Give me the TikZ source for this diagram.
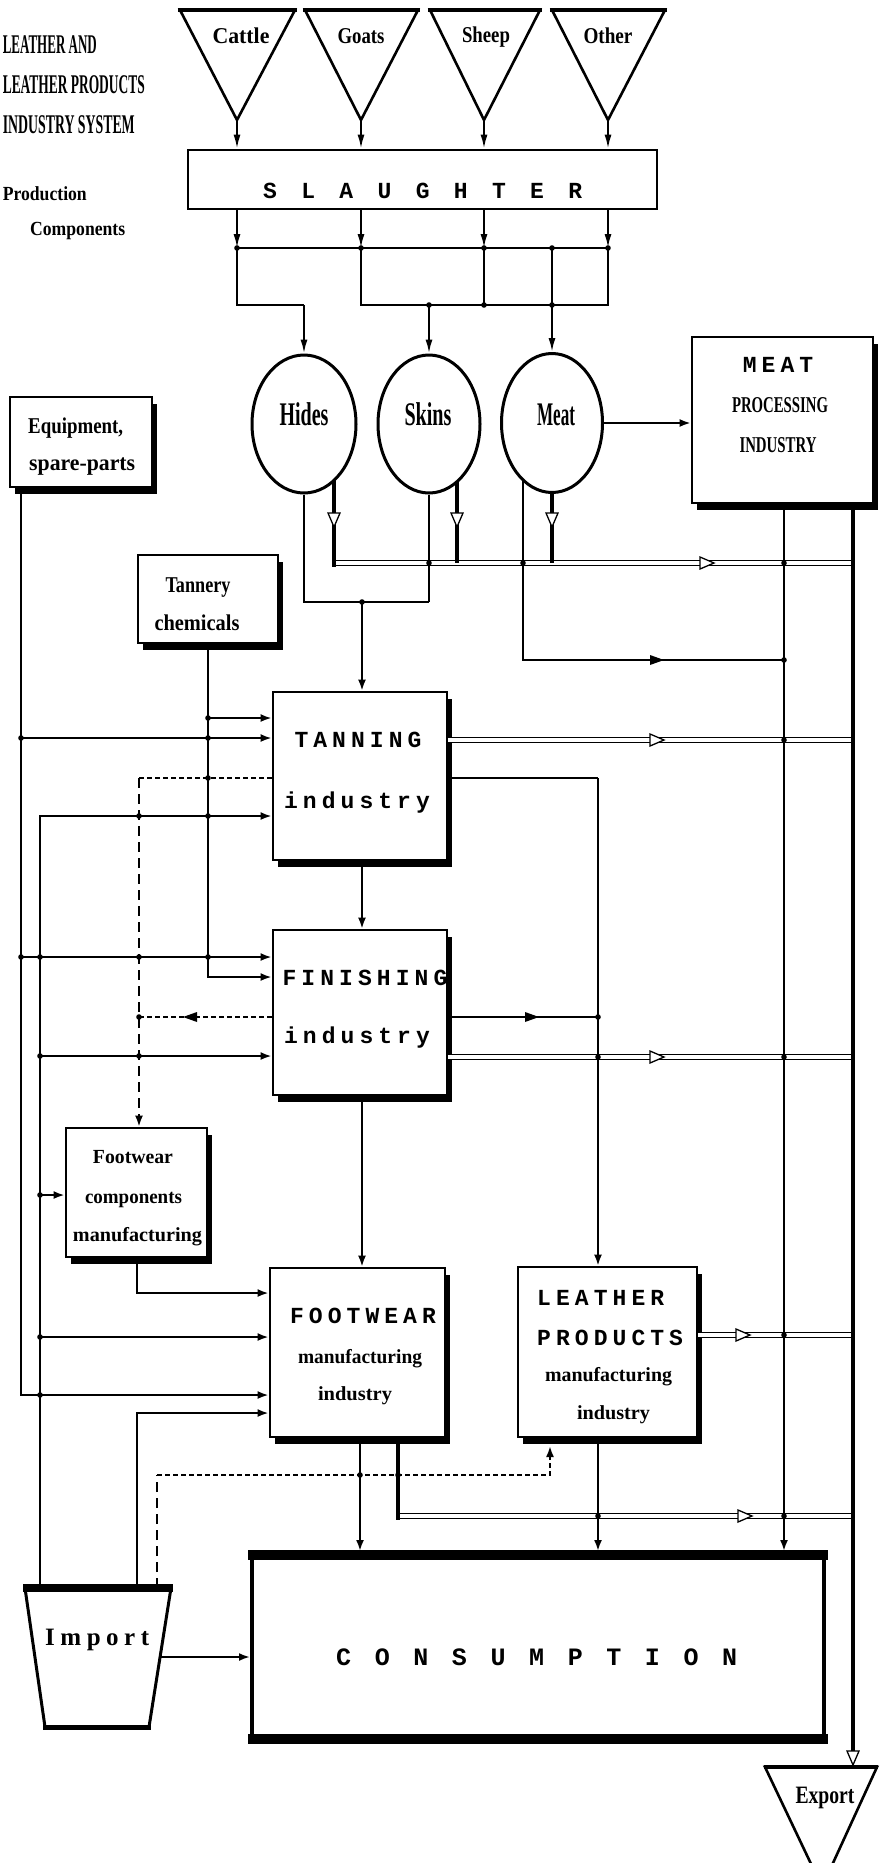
\documentclass[tikz,border=0pt]{standalone}
\usepackage{fontspec}
\usepackage{graphicx}
\usetikzlibrary{arrows.meta,shapes.geometric,shadows}
\newfontfamily\lblfont{Liberation Serif}
\newfontfamily\monofnt{Liberation Mono}[LetterSpace=22]
\newcommand\fitw[2]{\resizebox{#1}{\height}{#2}}
\newcommand\farr[3]{\fill[shift={(#1,#2)},rotate=#3] (-7pt,-5pt) -- (7pt,0pt) -- (-7pt,5pt) -- cycle;}
\newcommand\oarr[3]{\draw[line width=1.3pt,fill=white,shift={(#1,#2)},rotate=#3] (-7pt,-6pt) -- (7pt,0pt) -- (-7pt,6pt) -- cycle;}
\newcommand\jd[2]{\fill (#1,#2) circle (2.8pt);}
\begin{document}
\begin{tikzpicture}[x=1pt,y=-1pt,
 ln/.style={line width=2pt},
 tip/.style={-{Latex[length=11pt,width=8pt]}},
 arr/.style={ln,tip},
 narr/.style={ln,-{Latex[length=14pt,width=7pt]}},
 dbl/.style={double, double distance=3.6pt, line width=1.6pt},
 thk/.style={line width=4pt},
 dsh/.style={ln, dash pattern=on 5pt off 3pt},
 vdsh/.style={ln, dash pattern=on 10pt off 6pt},
 bx/.style={draw, line width=2.8pt, fill=white, rectangle, inner sep=0pt, drop shadow={shadow xshift=5pt, shadow yshift=-7pt, opacity=1, fill=black}},
 ell/.style={draw, ellipse, line width=3pt, inner sep=0pt, fill=white},
 l15/.style={font=\lblfont\bfseries\fontsize{22.6}{24}\selectfont, inner sep=0pt, anchor=base},
 l13/.style={font=\lblfont\bfseries\fontsize{20}{22}\selectfont, inner sep=0pt, anchor=base},
 l22/.style={font=\lblfont\bfseries\fontsize{33}{35}\selectfont, inner sep=0pt, anchor=base},
 l17/.style={font=\lblfont\bfseries\fontsize{25}{27}\selectfont, inner sep=0pt, anchor=base},
 l18/.style={font=\lblfont\bfseries\fontsize{27}{29}\selectfont, inner sep=0pt, anchor=base},
 mono/.style={font=\monofnt\bfseries\fontsize{23}{25}\selectfont, inner sep=0pt, anchor=base},
]
\useasboundingbox (0,0) rectangle (879,1863);
\fill[white] (0,0) rectangle (879,1863);

% ---------- title
\node[l18, anchor=base east] (ttl1) at (97,53) {\fitw{94pt}{LEATHER AND}};
\node[l18, anchor=base east] (ttl2) at (145,93) {\fitw{142pt}{LEATHER PRODUCTS}};
\node[l18, anchor=base east] (ttl3) at (135,133) {\fitw{132pt}{INDUSTRY SYSTEM}};
\node[l13, anchor=base east] (ttl4) at (87,200) {\fitw{84pt}{Production}};
\node[l13, anchor=base west] (ttl5) at (30,235) {\fitw{95pt}{Components}};

% ---------- source triangles
\draw[line width=2.6pt] (180,10) -- (295,10) -- (237,120) -- cycle;
\draw[line width=2.6pt] (305,10) -- (418,10) -- (361,120) -- cycle;
\draw[line width=2.6pt] (430,10) -- (540,10) -- (484,120) -- cycle;
\draw[line width=2.6pt] (552,10) -- (665,10) -- (608,120) -- cycle;
\foreach \a/\b in {178/297,303/420,428/542,550/667} {\draw[line width=4pt] (\a,10) -- (\b,10);}
\coordinate (cattle) at (237,120);
\coordinate (goats) at (361,120);
\coordinate (sheep) at (484,120);
\coordinate (other) at (608,120);
\node[l15] (tCattle) at (241,43) {\fitw{57pt}{Cattle}};
\node[l15] (tGoats) at (361,43) {\fitw{47pt}{Goats}};
\node[l15] (tSheep) at (486,42) {\fitw{48pt}{Sheep}};
\node[l15] (tOther) at (608,43) {\fitw{49pt}{Other}};

% ---------- nodes
\node[draw, line width=2.6pt, minimum width=469pt, minimum height=59pt, inner sep=0pt] (slaughter) at (422.5,179.5) {};
\node[mono, anchor=base west] (tSl) at (263,198) {\makebox[319pt][s]{S\hfill L\hfill A\hfill U\hfill G\hfill H\hfill T\hfill E\hfill R}};

\node[ell, minimum width=104pt, minimum height=138pt] (hides) at (304,424) {};
\node[ell, minimum width=102pt, minimum height=138pt] (skins) at (429,424) {};
\node[ell, minimum width=101pt, minimum height=139pt] (meat) at (552,423) {};
\node[l22] (tHides) at (304,425) {\fitw{49pt}{Hides}};
\node[l22] (tSkins) at (428,425) {\fitw{47pt}{Skins}};
\node[l22] (tMeat) at (556,425) {\fitw{38pt}{Meat}};

\node[bx, minimum width=181pt, minimum height=166pt] (mpi) at (782.5,420) {};
\node[bx, minimum width=142pt, minimum height=90pt] (equip) at (81,442) {};
\node[bx, minimum width=140pt, minimum height=88pt] (tch) at (208,599) {};
\node[bx, minimum width=174pt, minimum height=168pt] (tanning) at (360,776) {};
\node[bx, minimum width=174pt, minimum height=165pt] (finishing) at (360,1012.5) {};
\node[bx, minimum width=141pt, minimum height=129pt] (fcomp) at (136.5,1192.5) {};
\node[bx, minimum width=175pt, minimum height=169pt] (footwear) at (357.5,1352.5) {};
\node[bx, minimum width=179pt, minimum height=170pt] (leather) at (607.5,1352) {};
\node[draw, line width=4pt, minimum width=572pt, minimum height=180pt, inner sep=0pt] (cons) at (538,1647) {};
\draw[line width=10pt, shorten <=-2pt, shorten >=-2pt] (cons.north west) -- (cons.north east);
\draw[line width=10pt, shorten <=-2pt, shorten >=-2pt] (cons.south west) -- (cons.south east);

% import trapezoid
\draw[line width=3pt] (25,1588) -- (45,1727) -- (149,1727) -- (171,1588) -- cycle;
\draw[line width=8pt] (23,1588) -- (173,1588);
\draw[line width=5pt] (43,1727) -- (151,1727);
\coordinate (impT) at (97,1588);
\coordinate (impR) at (160,1657);
% export triangle
\begin{scope}
\clip (0,0) rectangle (879,1863);
\draw[line width=2.6pt] (765,1767) -- (877,1767) -- (822,1887) -- cycle;
\draw[line width=3.6pt] (764,1767) -- (878,1767);
\end{scope}
\coordinate (expT) at (853,1767);

% ---------- texts in boxes
\node[mono] (tMpi1) at (778,372) {MEAT};
\node[l15] (tMpi2) at (780,412) {\fitw{96pt}{PROCESSING}};
\node[l15] (tMpi3) at (778,452) {\fitw{77pt}{INDUSTRY}};
\node[l15, anchor=base west] (tEq1) at (28,433) {\fitw{95pt}{Equipment,}};
\node[l15, anchor=base west] (tEq2) at (29,470) {\fitw{106pt}{spare-parts}};
\node[l15] (tTc1) at (198,592) {\fitw{65pt}{Tannery}};
\node[l15] (tTc2) at (197,630) {\fitw{85pt}{chemicals}};
\node[mono] (tTan1) at (358,747) {TANNING};
\node[mono] (tTan2) at (357,808) {industry};
\node[mono] (tFin1) at (365,985) {FINISHING};
\node[mono] (tFin2) at (357,1043) {industry};
\node[l13] (tFc1) at (133,1163) {\fitw{80pt}{Footwear}};
\node[l13] (tFc2) at (133.5,1203) {\fitw{97pt}{components}};
\node[l13] (tFc3) at (137.5,1241) {\fitw{129pt}{manufacturing}};
\node[mono] (tFw1) at (363,1323) {FOOTWEAR};
\node[l13] (tFw2) at (360,1363) {\fitw{124pt}{manufacturing}};
\node[l13] (tFw3) at (355,1400) {\fitw{74pt}{industry}};
\node[mono, anchor=base west] (tLp1) at (537,1305) {LEATHER};
\node[mono, anchor=base west] (tLp2) at (537,1345) {PRODUCTS};
\node[l13] (tLp3) at (608.5,1381) {\fitw{127pt}{manufacturing}};
\node[l13] (tLp4) at (613.5,1419) {\fitw{73pt}{industry}};
\node[mono, font=\monofnt\bfseries\fontsize{25}{27}\selectfont, anchor=base west] (tCons) at (336,1665) {\makebox[401pt][s]{C\hfill O\hfill N\hfill S\hfill U\hfill M\hfill P\hfill T\hfill I\hfill O\hfill N}};
\node[l17, anchor=base west] (tImp) at (45,1645) {\makebox[104pt][s]{I\hfill m\hfill p\hfill o\hfill r\hfill t}};
\node[l17] (tExp) at (825,1803) {\fitw{59pt}{Export}};

% ---------- helper rows / columns
\foreach \r in {563,718,738,740,778,816,957,977,1017,1056,1057,1195,1293,1335,1337,1395,1413,1475,1516}
  {\coordinate (R\r) at (0,\r);}
\foreach \c in {21,40,137,139,157,208,360,362,398,429,523,550,598,784,853}
  {\coordinate (C\c) at (\c,0);}

% ---------- slaughter flows
\draw[narr] (cattle) -- (cattle |- slaughter.north);
\draw[narr] (goats) -- (goats |- slaughter.north);
\draw[narr] (sheep) -- (sheep |- slaughter.north);
\draw[narr] (other) -- (other |- slaughter.north);
\coordinate (b1) at (237,248);
\coordinate (b2) at (361,248);
\coordinate (b3) at (484,248);
\coordinate (b4) at (552,248);
\coordinate (b5) at (608,248);
\draw[narr] (cattle |- slaughter.south) -- (b1);
\draw[narr] (goats |- slaughter.south) -- (b2);
\draw[narr] (sheep |- slaughter.south) -- (b3);
\draw[narr] (other |- slaughter.south) -- (b5);
\draw[ln] (b1) -- (b5);
\coordinate (s1) at (304,305);
\coordinate (s2) at (361,305);
\coordinate (s3) at (608,305);
\coordinate (s4) at (429,305);
\draw[ln] (b1) |- (s1);
\draw[narr] (s1) -- (hides.north);
\draw[ln] (b2) -- (s2) -- (s3) -- (b5);
\draw[ln] (b3) -- (b3 |- s2);
\draw[narr] (s4) -- (skins.north);
\draw[narr] (b4) -- (meat.north);
\draw[arr] (meat.east) -- (meat.east -| mpi.west);

% ---------- double (export) lines
\coordinate (d1) at (334,563);
\draw[dbl] (d1) -- (C853 |- R563);
\draw[dbl] (tanning.east |- R740) -- (C853 |- R740);
\draw[dbl] (finishing.east |- R1057) -- (C853 |- R1057);
\draw[dbl] (leather.east |- R1335) -- (C853 |- R1335);
\draw[dbl] (C398 |- R1516) -- (C853 |- R1516);

% ---------- thin flows (hides, skins, meat)
\draw[ln] (hides.south) -- (304,602) -- (429,602);
\draw[ln] (skins.south) -- (429,602);
\coordinate (hs) at (362,602);
\draw[arr] (hs) -- (hs |- tanning.north);
\coordinate (m1) at (523,479.5);
\coordinate (m2) at (523,660);
\coordinate (m3) at (784,660);
\draw[ln] (m1) -- (m2) -- (m3);
\draw[arr, shorten >=4pt] (C784 |- mpi.south) -- (C784 |- cons.north);

% ---------- left inputs
\draw[arr] (C21 |- equip.south) -- (C21 |- R1395) -- (footwear.west |- R1395);
\draw[arr] (C21 |- R738) -- (tanning.west |- R738);
\draw[arr] (C21 |- R957) -- (finishing.west |- R957);
\draw[arr] (C208 |- tch.south) -- (C208 |- R977) -- (finishing.west |- R977);
\draw[arr] (C208 |- R718) -- (tanning.west |- R718);
\draw[arr] (C40 |- impT) -- (C40 |- R816) -- (tanning.west |- R816);
\draw[arr] (C40 |- R1056) -- (finishing.west |- R1056);
\draw[arr] (C40 |- R1195) -- (fcomp.west |- R1195);
\draw[arr] (C40 |- R1337) -- (footwear.west |- R1337);
\draw[arr] (C137 |- fcomp.south) -- (C137 |- R1293) -- (footwear.west |- R1293);
\draw[arr] (C137 |- impT) -- (C137 |- R1413) -- (footwear.west |- R1413);
\draw[dsh] (tanning.west |- R778) -- (C139 |- R778);
\draw[vdsh, tip] (C139 |- R778) -- (C139 |- fcomp.north);
\draw[dsh] (finishing.west |- R1017) -- (C139 |- R1017);
\coordinate (lb) at (550,1446);
\draw[vdsh] (C157 |- impT) -- (C157 |- R1475);
\draw[dsh, tip] (C157 |- R1475) -- (C550 |- R1475) -- (lb);

% ---------- right flows
\draw[ln] (tanning.east |- R778) -- (C598 |- R778);
\draw[arr] (C598 |- R778) -- (C598 |- leather.north);
\draw[ln] (finishing.east |- R1017) -- (C598 |- R1017);
\draw[arr] (hs |- finishing.south) -- (hs |- footwear.north);
\draw[arr] (hs |- tanning.south) -- (hs |- finishing.north);
\draw[arr, shorten >=4pt] (C360 |- footwear.south) -- (C360 |- cons.north);
\draw[arr, shorten >=4pt] (C598 |- leather.south) -- (C598 |- cons.north);
\draw[arr] (impR) -- (impR -| cons.west);

% ---------- thick export verticals
\draw[thk] (334,480) -- (334,566.5);
\draw[thk] (457,482) -- (457,563);
\draw[thk] (meat.south) -- (552,563);
\draw[thk] (C398 |- footwear.south) -- (398,1519.5);
\draw[thk] (C853 |- mpi.south) -- (853,1751);

% ---------- arrow marks
\oarr{334}{520}{-90}
\oarr{457}{520}{-90}
\oarr{552}{520}{-90}
\oarr{707}{563}{0}
\oarr{657}{740}{0}
\oarr{657}{1057}{0}
\oarr{743}{1335}{0}
\oarr{745}{1516}{0}
\oarr{853}{1758}{-90}
\farr{657}{660}{0}
\farr{532}{1017}{0}
\farr{190}{1017}{180}

% ---------- junction dots
\foreach \x/\y in {237/248,361/248,484/248,552/248,608/248,429/305,484/305,552/305,
  429/563,523/563,784/563,362/602,784/660,
  21/738,21/957,40/957,40/1056,40/1195,40/1337,40/1395,
  208/718,208/738,208/778,208/816,208/957,139/816,139/957,139/1017,139/1056,
  784/740,784/1057,784/1335,784/1516,598/1017,598/1057,598/1516,360/1475,398/1475}
  {\jd{\x}{\y}}
\end{tikzpicture}
\end{document}
